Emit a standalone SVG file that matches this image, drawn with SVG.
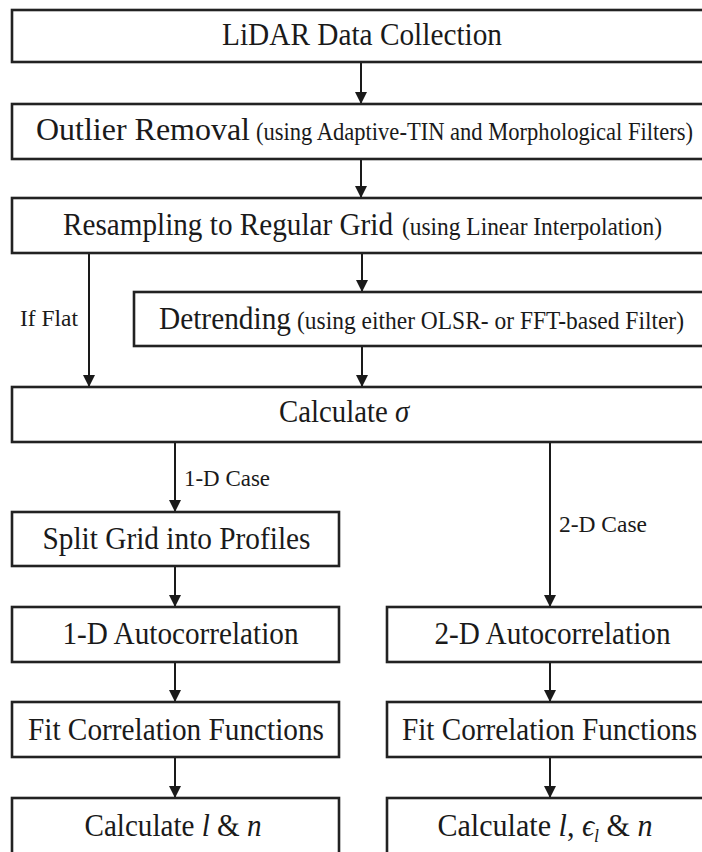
<svg xmlns="http://www.w3.org/2000/svg" width="702" height="852" viewBox="0 0 702 852">
<style>
.box{fill:#fff;stroke:#222;stroke-width:2.6}
.t{font-family:"Liberation Serif","Times New Roman","DejaVu Serif",serif;fill:#1a1a1a}
.m{font-size:32px}
.p{font-size:25.5px}
.l{font-size:23.5px}
.c{text-anchor:middle}
.i{font-style:italic}
.ln{stroke:#1a1a1a;stroke-width:2;fill:none}
</style>
<defs>
<marker id="ah" viewBox="0 0 12 12" refX="12" refY="6" markerWidth="12" markerHeight="12" markerUnits="userSpaceOnUse" orient="auto">
<path d="M0,0 L12,6 L0,12 z" fill="#1a1a1a"/>
</marker>
</defs>
<rect width="702" height="852" fill="#fff"/>

<g id="connectors">
<line class="ln" x1="361" y1="62" x2="361" y2="104" marker-end="url(#ah)"/>
<line class="ln" x1="361" y1="159" x2="361" y2="198" marker-end="url(#ah)"/>
<line class="ln" x1="362" y1="253" x2="362" y2="292" marker-end="url(#ah)"/>
<line class="ln" x1="89" y1="253" x2="89" y2="387" marker-end="url(#ah)"/>
<line class="ln" x1="362" y1="346" x2="362" y2="387" marker-end="url(#ah)"/>
<line class="ln" x1="175" y1="442" x2="175" y2="512" marker-end="url(#ah)"/>
<line class="ln" x1="550" y1="438" x2="550" y2="607" marker-end="url(#ah)"/>
<line class="ln" x1="175" y1="566" x2="175" y2="607" marker-end="url(#ah)"/>
<line class="ln" x1="175" y1="662" x2="175" y2="702" marker-end="url(#ah)"/>
<line class="ln" x1="175" y1="757" x2="175" y2="798" marker-end="url(#ah)"/>
<line class="ln" x1="550" y1="662" x2="550" y2="702" marker-end="url(#ah)"/>
<line class="ln" x1="550" y1="757" x2="550" y2="798" marker-end="url(#ah)"/>
<text class="t l" x="20" y="326" textLength="58" lengthAdjust="spacingAndGlyphs">If Flat</text>
<text class="t l" x="184" y="486" textLength="86" lengthAdjust="spacingAndGlyphs">1-D Case</text>
<text class="t l" x="559" y="532" textLength="88" lengthAdjust="spacingAndGlyphs">2-D Case</text>
</g>

<g id="lidar">
<rect class="box" x="12" y="10" width="700" height="52"/>
<text class="t m" x="222" y="45" textLength="280" lengthAdjust="spacingAndGlyphs">LiDAR Data Collection</text>
</g>

<g id="outlier">
<rect class="box" x="12" y="104" width="700" height="55"/>
<text class="t m" x="36" y="140" textLength="214" lengthAdjust="spacingAndGlyphs">Outlier Removal</text>
<text class="t p" x="256" y="140" textLength="437" lengthAdjust="spacingAndGlyphs">(using Adaptive-TIN and Morphological Filters)</text>
</g>

<g id="resampling">
<rect class="box" x="12" y="198" width="700" height="55"/>
<text class="t m" x="63" y="235" textLength="330" lengthAdjust="spacingAndGlyphs">Resampling to Regular Grid</text>
<text class="t p" x="402" y="235" textLength="260" lengthAdjust="spacingAndGlyphs">(using Linear Interpolation)</text>
</g>

<g id="detrending">
<rect class="box" x="134" y="292" width="578" height="54"/>
<text class="t m" x="159" y="329" textLength="132" lengthAdjust="spacingAndGlyphs">Detrending</text>
<text class="t p" x="297" y="329" textLength="387" lengthAdjust="spacingAndGlyphs">(using either OLSR- or FFT-based Filter)</text>
</g>

<g id="calc-sigma">
<rect class="box" x="12" y="387" width="700" height="55"/>
<text class="t m" transform="translate(279,422) scale(0.9,1)" x="0" y="0">Calculate <tspan class="i">σ</tspan></text>
</g>

<g id="split">
<rect class="box" x="12" y="512" width="327" height="54"/>
<text class="t m c" x="176.5" y="549" textLength="268" lengthAdjust="spacingAndGlyphs">Split Grid into Profiles</text>
</g>

<g id="auto1d">
<rect class="box" x="12" y="607" width="327" height="55"/>
<text class="t m c" x="180.5" y="644" textLength="236" lengthAdjust="spacingAndGlyphs">1-D Autocorrelation</text>
</g>

<g id="auto2d">
<rect class="box" x="387" y="607" width="325" height="55"/>
<text class="t m c" x="552.5" y="644" textLength="236" lengthAdjust="spacingAndGlyphs">2-D Autocorrelation</text>
</g>

<g id="fit1d">
<rect class="box" x="12" y="702" width="327" height="55"/>
<text class="t m c" x="176" y="740" textLength="296" lengthAdjust="spacingAndGlyphs">Fit Correlation Functions</text>
</g>

<g id="fit2d">
<rect class="box" x="387" y="702" width="325" height="55"/>
<text class="t m c" x="549.5" y="740" textLength="295" lengthAdjust="spacingAndGlyphs">Fit Correlation Functions</text>
</g>

<g id="calc1d">
<rect class="box" x="12" y="798" width="327" height="60"/>
<text class="t m c" transform="translate(173,836) scale(0.91,1)" x="0" y="0">Calculate <tspan class="i">l</tspan> &amp; <tspan class="i">n</tspan></text>
</g>

<g id="calc2d">
<rect class="box" x="387" y="798" width="325" height="60"/>
<text class="t m c" transform="translate(545,836) scale(0.94,1)" x="0" y="0">Calculate <tspan class="i">l</tspan>, <tspan class="i">ϵ</tspan><tspan class="i" font-size="19" dy="6">l</tspan><tspan dy="-6"> &amp; </tspan><tspan class="i">n</tspan></text>
</g>
</svg>
